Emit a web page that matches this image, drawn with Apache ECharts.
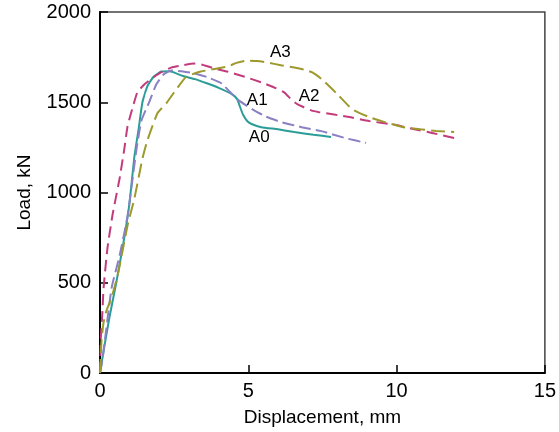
<!DOCTYPE html>
<html><head><meta charset="utf-8">
<script src="https://cdn.jsdelivr.net/npm/echarts@6/dist/echarts.min.js"></script>
<style>html,body{margin:0;padding:0;background:#fff}#c{width:559px;height:432px}</style>
</head><body><div id="c"></div>
<script>
var xTicks = [0, 5, 10, 15];
var yTicks = [0, 500, 1000, 1500, 2000];
var A0 = [[0,0],[0.15,150],[0.32,310],[0.56,510],[0.82,750],[1.0,950],[1.16,1200],[1.3,1350],[1.43,1500],[1.6,1590],[1.8,1640],[2.07,1670],[2.35,1672],[2.8,1645],[3.2,1628],[3.6,1605],[4.0,1580],[4.46,1544],[4.63,1516],[4.72,1475],[4.82,1432],[4.97,1395],[5.13,1378],[5.44,1362],[6.0,1350],[6.55,1335],[7.2,1320],[7.79,1308]];
var A1 = [[0,0],[0.08,70],[0.39,470],[0.66,650],[0.93,870],[1.23,1240],[1.4,1400],[1.67,1505],[1.9,1600],[2.15,1655],[2.4,1676],[2.8,1670],[3.18,1660],[3.6,1640],[4.09,1605],[4.63,1516],[5.2,1455],[5.6,1420],[6.11,1390],[6.8,1362],[7.46,1340],[8.3,1300],[8.97,1275]];
var A2 = [[0,0],[0.03,200],[0.08,335],[0.12,470],[0.25,690],[0.42,874],[0.66,1077],[0.82,1242],[0.93,1368],[1.1,1470],[1.26,1555],[1.5,1600],[1.73,1630],[2.05,1665],[2.4,1692],[2.8,1705],[3.18,1714],[3.42,1709],[3.8,1690],[4.29,1670],[4.9,1640],[5.44,1610],[5.9,1580],[6.21,1555],[6.45,1515],[6.65,1489],[7.12,1455],[7.39,1445],[8.4,1418],[9.07,1396],[9.98,1374],[10.6,1350],[11.2,1330],[11.94,1302]];
var A3 = [[0,0],[0.05,180],[0.12,280],[0.22,346],[0.39,418],[0.59,538],[0.76,676],[0.93,819],[1.16,967],[1.43,1187],[1.6,1290],[1.94,1440],[2.24,1495],[2.5,1555],[2.9,1640],[3.4,1670],[4.3,1698],[4.6,1718],[4.97,1731],[5.3,1728],[5.64,1720],[6.1,1705],[6.55,1692],[6.9,1680],[7.16,1665],[7.49,1626],[8.0,1545],[8.5,1462],[9.07,1418],[9.6,1390],[10.19,1363],[10.8,1350],[11.33,1341],[11.94,1335]];
var labelNames = ['A0','A1','A2','A3'];
var labelPos = [[5.37,1308],[5.3,1511],[7.05,1533],[6.08,1775]];

var colors = ['#2a9d98','#8a80c4','#c23c7c','#9c9a2c'];
var font = 'Arial';
function line(name, data, color, dash) {
  return {type:'line', name:name, data:data, showSymbol:false, symbol:'none', smooth:0.15,
    lineStyle:{color:color, width:2, type:dash}, z:3, emphasis:{disabled:true}};
}
var chart = echarts.init(document.getElementById('c'));
chart.setOption({
  animation:false,
  backgroundColor:'#fff',
  grid:{left:100, right:13, top:12, bottom:56, show:true, borderColor:'#444', borderWidth:1.5, backgroundColor:'transparent'},
  xAxis:{type:'value', min:0, max:15, interval:5,
    name:'Displacement, mm', nameLocation:'middle', nameGap:35,
    nameTextStyle:{fontFamily:font, fontSize:19, color:'#000'},
    axisLine:{show:true, onZero:false, lineStyle:{color:'#000', width:2}},
    axisTick:{show:true, inside:true, length:8, lineStyle:{color:'#000', width:1.5}},
    axisLabel:{fontFamily:font, fontSize:20, color:'#000', margin:8, formatter:function(v){return String(v);}},
    splitLine:{show:false}},
  yAxis:{type:'value', min:0, max:2000, interval:500,
    name:'Load, kN', nameLocation:'middle', nameGap:66,
    nameTextStyle:{fontFamily:font, fontSize:19, color:'#000'},
    axisLine:{show:true, onZero:false, lineStyle:{color:'#000', width:2}},
    axisTick:{show:true, inside:true, length:8, lineStyle:{color:'#000', width:1.5}},
    axisLabel:{fontFamily:font, fontSize:20, color:'#000', margin:9, formatter:function(v){return String(v);}},
    splitLine:{show:false}},
  series:[
    line('A0', A0, colors[0], 'solid'),
    line('A1', A1, colors[1], [12,5]),
    line('A2', A2, colors[2], [11,6]),
    line('A3', A3, colors[3], [14,6]),
    {type:'scatter', symbolSize:0, silent:true, emphasis:{disabled:true},
      data:labelPos.map(function(p,i){return {value:p, name:labelNames[i]};}),
      label:{show:true, position:'inside', formatter:'{b}', fontFamily:font, fontSize:17, color:'#000', opacity:1}, z:5}
  ]
});
</script></body></html>
